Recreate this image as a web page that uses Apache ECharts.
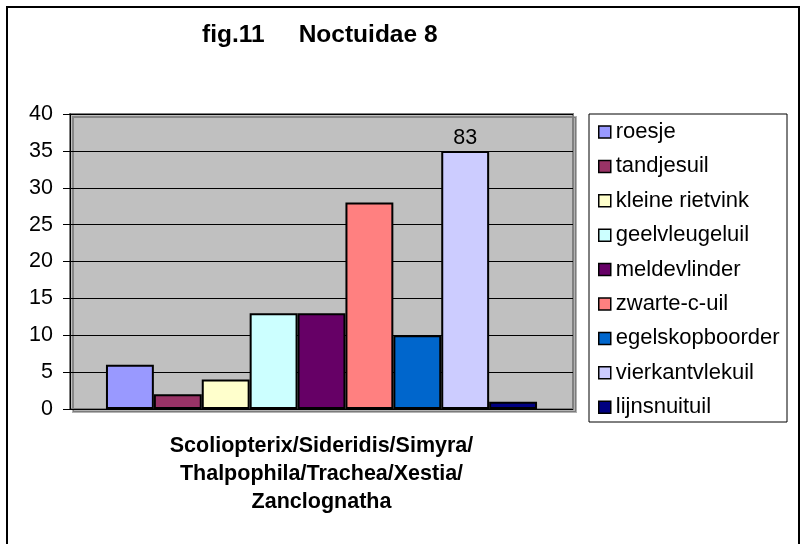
<!DOCTYPE html>
<html>
<head>
<meta charset="utf-8">
<script src="https://cdn.jsdelivr.net/npm/echarts@6/dist/echarts.min.js"></script>
<style>
  html, body { margin: 0; padding: 0; background: #fff; }
  #chart { width: 800px; height: 544px; }
</style>
</head>
<body>
<div id="chart"></div>
<script>
const categories = ['Scoliopterix/Sideridis/Simyra/\nThalpophila/Trachea/Xestia/\nZanclognatha']
const species = ['roesje', 'tandjesuil', 'kleine rietvink', 'geelvleugeluil', 'meldevlinder',
    'zwarte-c-uil', 'egelskopboorder', 'vierkantvlekuil', 'lijnsnuituil']
// bar heights as drawn (vierkantvlekuil is cut off at 35 and labelled 83)
const values = [6, 2, 4, 13, 13, 28, 10, 35, 1]
const bar_labels = ['', '', '', '', '', '', '', '83', '']
const colors = ['#9999FF', '#993366', '#FFFFCC', '#CCFFFF', '#660066',
    '#FF8080', '#0066CC', '#CCCCFF', '#000080']
const y_ticks = [0, 5, 10, 15, 20, 25, 30, 35, 40]

const font = 'Liberation Sans, Arial, sans-serif'
const myChart = echarts.init(document.getElementById('chart'))

const series = species.map(function (name, i) {
    return {
        name: name,
        type: 'bar',
        barGap: 0,
        barCategoryGap: '14.3%',
        data: [values[i]],
        itemStyle: { color: colors[i], borderColor: '#000', borderWidth: 2 },
        label: {
            show: bar_labels[i] !== '',
            position: 'top',
            distance: 2,
            formatter: bar_labels[i],
            color: '#000',
            fontFamily: font,
            fontSize: 21.5
        }
    }
})

const option = {
    animation: false,
    backgroundColor: '#fff',
    textStyle: { fontFamily: font },
    title: {
        text: 'fig.11     Noctuidae 8',
        left: 197,
        top: 18,
        textStyle: { fontFamily: font, fontSize: 24.5, fontWeight: 'bold', color: '#000' }
    },
    grid: {
        left: 70, right: 227, top: 114, bottom: 135,
        show: true,
        backgroundColor: '#C0C0C0',
        borderColor: '#808080',
        borderWidth: 2,
        shadowColor: 'rgba(0,0,0,0.3)',
        shadowOffsetX: 3,
        shadowOffsetY: 3,
        shadowBlur: 0
    },
    legend: {
        orient: 'vertical',
        left: 598,
        top: 121,
        padding: 0,
        itemWidth: 12,
        itemHeight: 12,
        itemGap: 12.4,
        icon: 'rect',
        itemStyle: { borderColor: '#000', borderWidth: 1.5 },
        textStyle: { fontFamily: font, fontSize: 22, lineHeight: 22, color: '#000' },
        data: species
    },
    xAxis: {
        type: 'category',
        data: categories,
        axisLine: { show: false },
        axisTick: { show: false },
        axisLabel: {
            margin: 23,
            fontFamily: font,
            fontSize: 21.5,
            fontWeight: 'bold',
            lineHeight: 28,
            color: '#000'
        }
    },
    yAxis: {
        type: 'value',
        min: y_ticks[0],
        max: y_ticks[y_ticks.length - 1],
        interval: 5,
        axisLine: { show: true, lineStyle: { color: '#000', width: 1 } },
        axisTick: { show: true, inside: false, length: 7, lineStyle: { color: '#000' } },
        splitLine: { show: true, lineStyle: { color: '#000', width: 1 } },
        axisLabel: { fontFamily: font, fontSize: 21.5, color: '#000', margin: 17 }
    },
    graphic: [
        {
            type: 'rect',
            shape: { x: 589, y: 114, width: 198, height: 308 },
            style: { fill: 'none', stroke: '#000', lineWidth: 1 },
            z: 100
        },
        {
            type: 'rect',
            shape: { x: 7, y: 7, width: 792, height: 546 },
            style: { fill: 'none', stroke: '#000', lineWidth: 2 },
            z: 100
        }
    ],
    series: series
}

myChart.setOption(option)
</script>
</body>
</html>
